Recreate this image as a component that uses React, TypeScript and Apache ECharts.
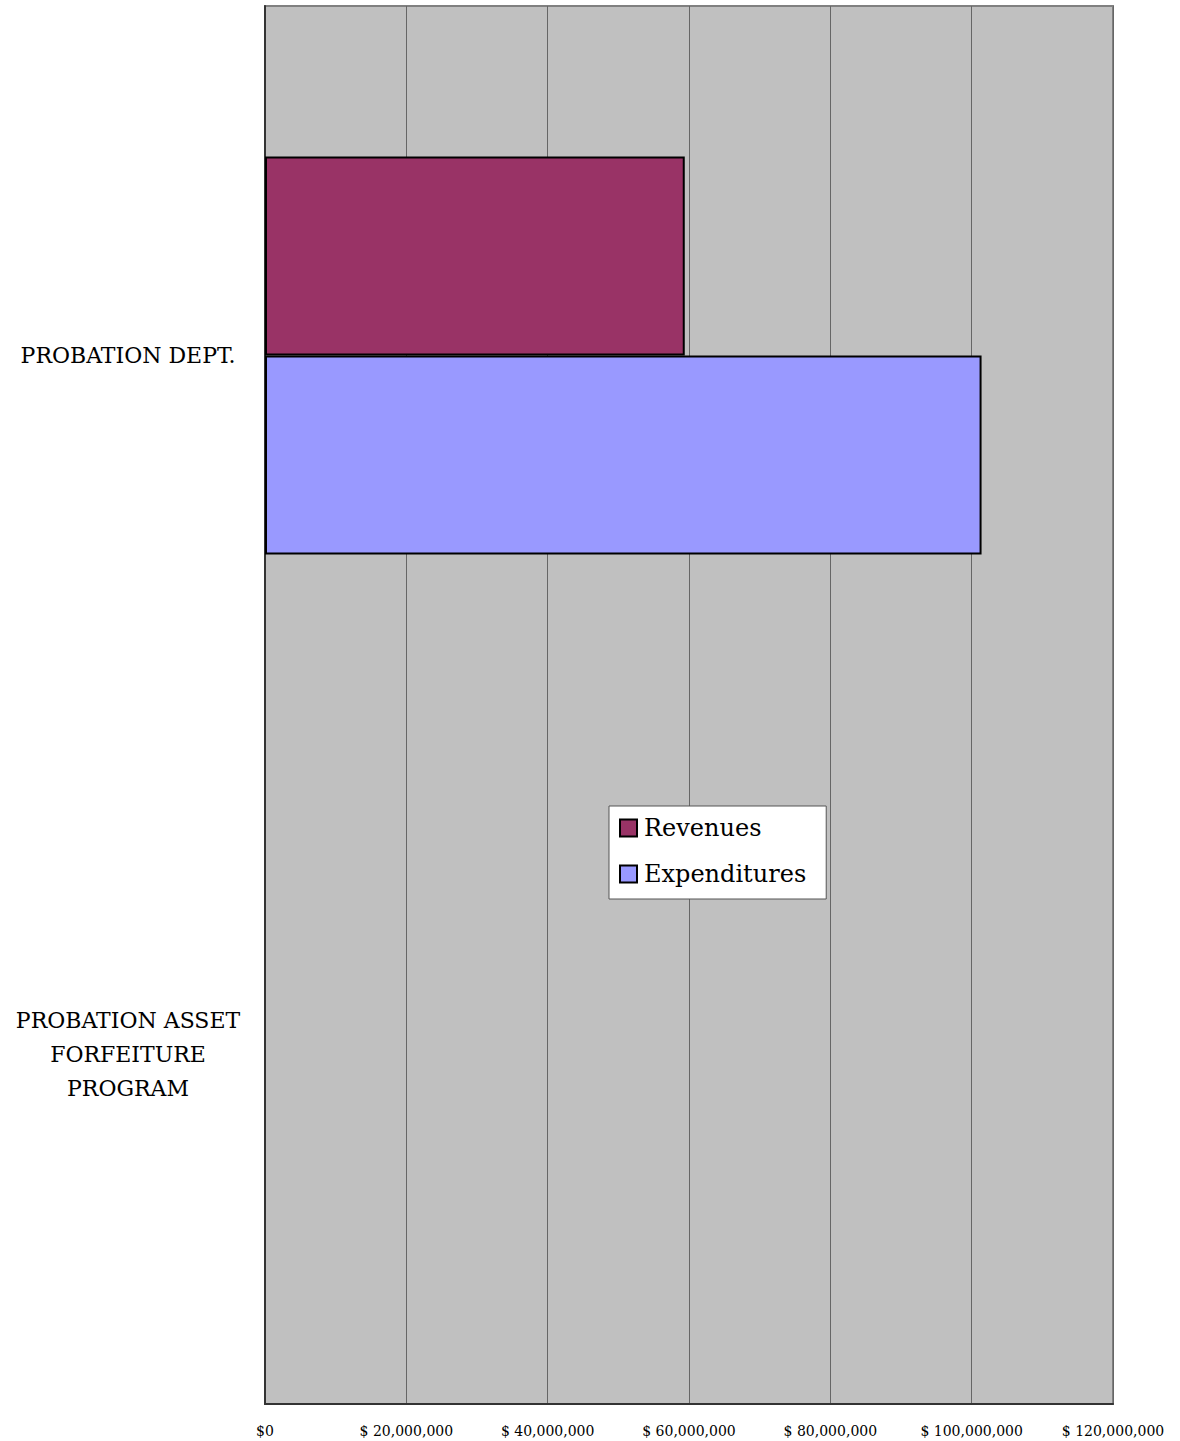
import React, { useEffect, useRef } from "react";
import * as echarts from "echarts";

const categories = ["PROBATION DEPT.", "PROBATION ASSET\nFORFEITURE\nPROGRAM"];
const revenues = [59400000, 0];
const expenditures = [101400000, 0];
const seriesNames = ["Revenues", "Expenditures"];
const seriesColors = ["#993366", "#9999FF"];

const FONT = "'DejaVu Serif', 'Liberation Serif', serif";

function barData(values: number[]) {
  return values.map((v) => ({
    value: v,
    itemStyle: { borderWidth: v === 0 ? 0 : 2 },
  }));
}

export default function App() {
  const ref = useRef<HTMLDivElement>(null);
  useEffect(() => {
    const chart = echarts.init(ref.current!, null, { renderer: "svg" });
    chart.setOption({
      animation: false,
      backgroundColor: "#ffffff",
      grid: {
        left: 265,
        right: 67,
        top: 6,
        bottom: 37,
        show: true,
        backgroundColor: "#C0C0C0",
        borderColor: "#808080",
        borderWidth: 2,
      },
      legend: {
        orient: "vertical",
        left: 609,
        top: 806,
        padding: [10, 20, 13, 10],
        backgroundColor: "#ffffff",
        borderColor: "#555555",
        borderWidth: 1,
        itemWidth: 17,
        itemHeight: 17,
        itemGap: 22,
        icon: "rect",
        data: seriesNames,
        textStyle: { fontFamily: FONT, fontSize: 24, color: "#000", padding: [0, 0, 0, 2] },
      },
      xAxis: {
        type: "value",
        min: 0,
        max: 120000000,
        interval: 20000000,
        axisLine: { show: true, lineStyle: { color: "#333", width: 2 } },
        axisTick: { show: false },
        splitLine: { show: true, lineStyle: { color: "#666", width: 1 } },
        axisLabel: {
          fontFamily: FONT,
          fontSize: 14,
          color: "#000",
          margin: 20,
          formatter: (v: number) => (v === 0 ? "$0" : "$ " + v.toLocaleString("en-US")),
        },
      },
      yAxis: {
        type: "category",
        inverse: true,
        data: categories,
        axisLine: { show: true, lineStyle: { color: "#333", width: 2 } },
        axisTick: { show: false },
        axisLabel: {
          fontFamily: FONT,
          fontSize: 22,
          color: "#000",
          margin: 137,
          align: "center",
          lineHeight: 34,
          padding: [0, 0, 5, 0],
        },
      },
      series: [
        {
          name: seriesNames[0],
          type: "bar",
          data: barData(revenues),
          barWidth: 199,
          barGap: "0%",
          itemStyle: { color: seriesColors[0], borderColor: "#000", borderWidth: 2 },
        },
        {
          name: seriesNames[1],
          type: "bar",
          data: barData(expenditures),
          barWidth: 199,
          barGap: "0%",
          itemStyle: { color: seriesColors[1], borderColor: "#000", borderWidth: 2 },
        },
      ],
    });
    return () => chart.dispose();
  }, []);
  return (
    <div
      ref={ref}
      style={{ position: "absolute", left: 0, top: 0, width: 1180, height: 1441 }}
    />
  );
}
